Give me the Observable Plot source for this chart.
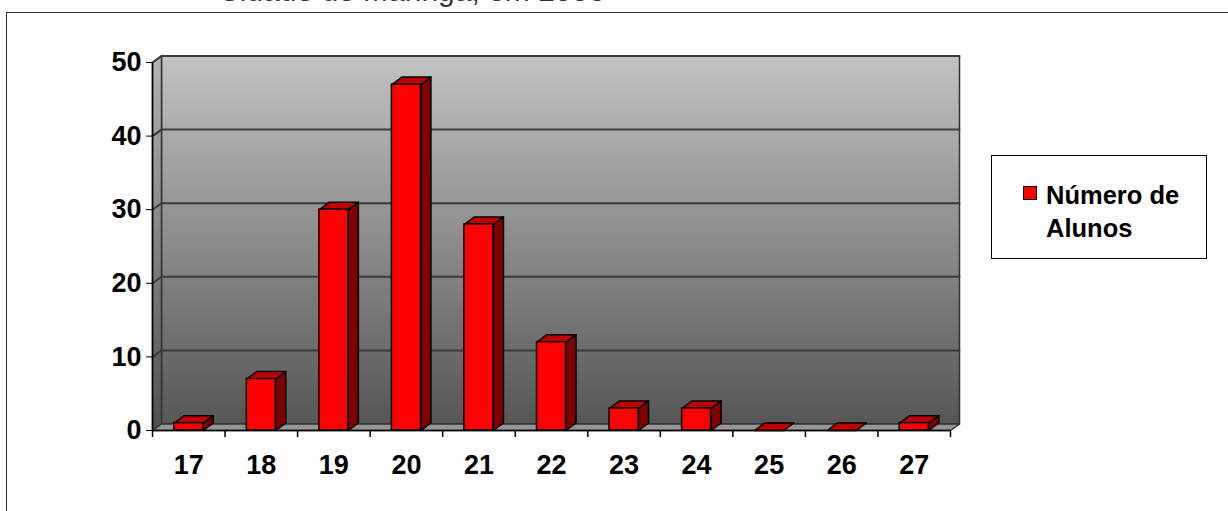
<!DOCTYPE html>
<html>
<head>
<meta charset="utf-8">
<script src="https://cdn.jsdelivr.net/npm/d3@7"></script>
<script src="https://cdn.jsdelivr.net/npm/@observablehq/plot@0.6"></script>
<style>
  html, body { margin: 0; padding: 0; background: #fff; }
  #page { position: relative; width: 1228px; height: 511px; overflow: hidden; font-family: "Liberation Sans", Arial, sans-serif; }
  #frame { position: absolute; left: 6px; top: 12px; width: 1400px; height: 700px; border: 1.5px solid #333; box-sizing: border-box; }
  #heading { position: absolute; left: 218px; top: -24px; font-size: 30px; line-height: 30px; color: #333; white-space: nowrap; }
  #chart { position: absolute; left: 0; top: 0; }
  #legend { position: absolute; left: 991px; top: 155px; width: 216px; height: 104px; box-sizing: border-box; border: 1.5px solid #000; background: #fff; }
  #legend .sw { position: absolute; left: 31px; top: 30px; width: 14px; height: 14px; box-sizing: border-box; background: #ff0000; border: 1.5px solid #000; }
  #legend .txt { position: absolute; left: 54px; top: 23px; font-size: 25.5px; font-weight: bold; line-height: 33px; color: #000; }
</style>
</head>
<body>
<div id="page">
  <div id="heading">Cidade de Maringá, em 2003</div>
  <div id="frame"></div>
  <div id="chart"></div>
  <div id="legend"><div class="sw"></div><div class="txt">Número de<br>Alunos</div></div>
</div>
<script>
// Ages (categories) and number of students per age
const idades = ["17", "18", "19", "20", "21", "22", "23", "24", "25", "26", "27"];
const alunos = [1, 7, 30, 47, 28, 12, 3, 3, 0, 0, 1];
const yTicks = [0, 10, 20, 30, 40, 50];
const serie = "Número de Alunos";

// Plot geometry
const W = 1228, H = 511;
const mL = 152, mR = 278, mT = 62, mB = 81;
const xMax = idades.length, yMax = 50;
const pxX = xMax / (W - mL - mR);      // data units per pixel, horizontally
const pxY = yMax / (H - mT - mB);      // data units per pixel, vertically

// 3D offsets (wall depth and bar depth), in data units
const WX = 9 * pxX, WY = 6.5 * pxY;
const BX = 10 * pxX, BY = 7.5 * pxY;
const barHalf = 0.2;

// Walls
const sideWall = [[0, 0], [WX, WY], [WX, yMax + WY], [0, yMax], [0, 0]].map(([x, y]) => ({x, y, id: "side"}));
const backWall = [[WX, WY], [xMax + WX, WY], [xMax + WX, yMax + WY], [WX, yMax + WY], [WX, WY]].map(([x, y]) => ({x, y, id: "back"}));
const floor = [[0, 0], [xMax, 0], [xMax + WX, WY], [WX, WY], [0, 0]].map(([x, y]) => ({x, y, id: "floor"}));
const grid = yTicks.filter(v => v > 0).flatMap(v =>
  [[0, v], [WX, v + WY], [xMax + WX, v + WY]].map(([x, y]) => ({x, y, id: "g" + v})));

// Bars: front, top and side faces
const bars = idades.map((k, i) => ({idade: k, v: alunos[i], x1: i + 0.5 - barHalf, x2: i + 0.5 + barHalf}));
const tops = bars.flatMap(b =>
  [[b.x1, b.v], [b.x2, b.v], [b.x2 + BX, b.v + BY], [b.x1 + BX, b.v + BY], [b.x1, b.v]].map(([x, y]) => ({x, y, id: b.idade})));
const sides = bars.flatMap(b =>
  [[b.x2, 0], [b.x2 + BX, BY], [b.x2 + BX, b.v + BY], [b.x2, b.v], [b.x2, 0]].map(([x, y]) => ({x, y, id: b.idade})));

const poly = (data, fill, stroke = "#333", sw = 1.5) =>
  Plot.line(data, {x: "x", y: "y", z: "id", fill, stroke, strokeWidth: sw, curve: "linear", strokeLinejoin: "round"});

const chart = Plot.plot({
  width: W,
  height: H,
  marginLeft: mL, marginRight: mR, marginTop: mT, marginBottom: mB,
  style: {fontFamily: "'Liberation Sans', Arial, sans-serif", fontSize: "27px", fontWeight: "bold", color: "#000", background: "transparent"},
  x: {
    domain: [0, xMax],
    ticks: idades.map((d, i) => i + 0.5),
    tickFormat: v => idades[Math.floor(v)],
    tickSize: 0,
    tickPadding: 24,
    label: null
  },
  y: {
    domain: [0, yMax],
    ticks: yTicks,
    tickSize: 6,
    tickPadding: 5,
    label: null
  },
  marks: [
    poly(backWall, "url(#wallGrad)"),
    poly(sideWall, "url(#sideGrad)"),
    poly(floor, "#959595"),
    poly(grid, "none", "#3a3a3a", 2),
    poly(sides, "#800000", "#000", 1.5),
    poly(tops, "#c00000", "#000", 1.5),
    Plot.rect(bars, {x1: "x1", x2: "x2", y1: 0, y2: "v", fill: "#ff0000", stroke: "#000", strokeWidth: 1.5, title: d => `${serie}: ${d.v}`}),
    Plot.ruleY([0], {x1: 0, x2: xMax, stroke: "#000", strokeWidth: 1.5}),
    Plot.ruleX([0], {y1: 0, y2: yMax, stroke: "#000", strokeWidth: 1.5}),
    Plot.ruleX(d3.range(0, xMax + 1), {y1: 0, y2: -7 * pxY, stroke: "#000", strokeWidth: 1.5})
  ]
});

const svg = d3.select(chart);

// Large bold tick labels
svg.selectAll("text").attr("font-size", null).style("font-size", "27px").style("font-weight", "bold");

// Gradient fills for the walls
const defs = svg.insert("defs", ":first-child");
function grad(id, top, bottom) {
  const g = defs.append("linearGradient").attr("id", id).attr("x1", 0).attr("y1", 0).attr("x2", 0).attr("y2", 1);
  g.append("stop").attr("offset", "0%").attr("stop-color", top);
  g.append("stop").attr("offset", "100%").attr("stop-color", bottom);
}
grad("wallGrad", "#c2c2c2", "#565656");
grad("sideGrad", "#b4b4b4", "#505050");

document.getElementById("chart").appendChild(chart);
</script>
</body>
</html>
